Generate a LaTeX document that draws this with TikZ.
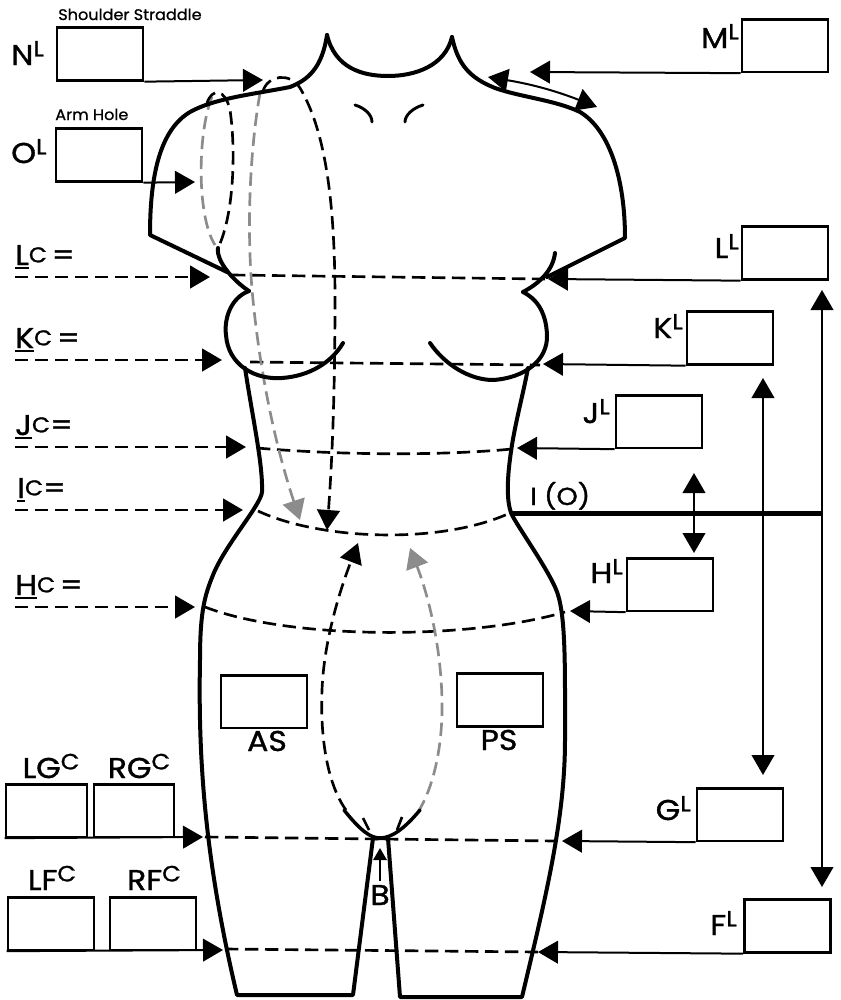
\documentclass[tikz,border=0pt]{standalone}
\usepackage{fontspec}
\setmainfont{Poppins}[FakeStretch=1.1, FakeBold=1.2]
\newfontfamily\smallfam{Poppins}[FakeStretch=1.05, FakeBold=0.8]
\usetikzlibrary{arrows.meta}
\definecolor{gry}{RGB}{140,140,140}
\newcommand\supL[1]{\raisebox{6.5pt}{\fontsize{16.5}{16.5}\selectfont #1}}
\newcommand\supC[1]{\raisebox{2pt}{\fontsize{16}{16}\selectfont #1}}
\newcommand\ulet[1]{\setbox0\hbox{#1}\rlap{\rule[-2.8pt]{\wd0}{1.5pt}}\box0}
\begin{document}
\begin{tikzpicture}[x=0.75pt,y=-0.75pt,
  body/.style={line width=3pt, line join=round, line cap=round},
  boxst/.style={draw, line width=2pt, minimum width=64.5pt, minimum height=39.5pt, inner sep=0pt},
  arr/.style={line width=1.5pt, -{Triangle[length=15pt,width=17pt]}},
  dbl/.style={line width=1.5pt, {Triangle[length=15pt,width=17pt]}-{Triangle[length=15pt,width=17pt]}},
  dsh/.style={line width=2pt, dash pattern=on 10pt off 5pt},
  darr/.style={dsh, -{Triangle[length=15pt,width=17pt]}},
  big/.style={font=\fontsize{21.5}{23}\selectfont, inner sep=0pt},
  mid/.style={font=\fontsize{18.5}{20}\selectfont, inner sep=0pt},
  small/.style={font=\smallfam\fontsize{11.5}{13}\selectfont, inner sep=0pt},
]
\fill[white] (0,0) rectangle (840,1000);
\useasboundingbox (0,0) rectangle (840,1000);

% ---------- coordinates (arrow tips) ----------
\coordinate (pN) at (263,80);
\coordinate (pO) at (195,182);
\coordinate (pM) at (530,72);
\coordinate (pLr) at (548,279);
\coordinate (pKr) at (543,364);
\coordinate (pJr) at (517,448);
\coordinate (pHr) at (570,611);
\coordinate (pGr) at (562,841);
\coordinate (pFr) at (538,952);
\coordinate (pGl) at (203,837);
\coordinate (pFl) at (223,950);
\coordinate (pB) at (380,848);

% ---------- dashed measurement lines ----------
\coordinate (Ls) at (15,277); \coordinate (Lt) at (210,277);
\coordinate (Ks) at (15,360); \coordinate (Kt) at (222,360);
\coordinate (Js) at (15,447); \coordinate (Jt) at (246,447);
\coordinate (Is) at (15,510); \coordinate (It) at (243,510);
\coordinate (Hs) at (15,607); \coordinate (Ht) at (195,607);
\draw[darr] (Ls) -- (Lt);
\draw[darr] (Ks) -- (Kt);
\draw[darr] (Js) -- (Jt);
\draw[darr] (Is) -- (It);
\draw[darr] (Hs) -- (Ht);

\draw[dsh] (232,275) -- (545,279);
\draw[dsh] (250,362) -- (540,365);
\draw[dsh] (257,448) .. controls (350,456) and (450,455) .. (512,449);
\draw[dsh] (258,511) .. controls (320,540) and (440,545) .. (510,513);
\draw[dsh] (205,607) .. controls (290,640) and (470,640) .. (565,612);
\draw[dsh] (205,837) -- (556,841);
\draw[dsh] (225,949) -- (538,952);

% shoulder straddle loops
\draw[dsh, gry, -{Triangle[length=15pt,width=17pt]}] (260,93) .. controls (250,150) and (246,230) .. (253,300) .. controls (262,390) and (280,460) .. (300,520);
\draw[dsh, -{Triangle[length=15pt,width=17pt]}] (263,91) .. controls (268,75) and (290,72) .. (300,88) .. controls (325,130) and (335,200) .. (335,300) .. controls (335,420) and (330,490) .. (327,530);
% arm hole
\draw[dsh, gry] (212,97) .. controls (198,130) and (196,215) .. (215,245);
\draw[dsh] (207,103) .. controls (212,88) and (225,88) .. (230,110) .. controls (236,150) and (234,215) .. (218,248);
% crotch loops
\draw[dsh, -{Triangle[length=15pt,width=17pt]}] (346,810) .. controls (328,785) and (320,740) .. (322,690) .. controls (324,640) and (340,590) .. (358,543);
\draw[dsh, gry, -{Triangle[length=15pt,width=17pt]}] (418,812) .. controls (432,790) and (443,750) .. (442,700) .. controls (441,650) and (430,600) .. (410,548);

% ---------- body outline ----------
\draw[body] (327,35) .. controls (322,68) and (308,80) .. (290,87)
  .. controls (255,94) and (215,98) .. (190,112)
  .. controls (160,130) and (150,175) .. (150,235) -- (227,272);
\draw[body] (218,248) .. controls (216,262) and (235,282) .. (249,291);
\draw[body] (249,291) .. controls (230,298) and (224,320) .. (226,335)
  .. controls (228,365) and (255,380) .. (282,378)
  .. controls (310,376) and (332,362) .. (343,343);
\draw[body] (245,368) .. controls (253,420) and (263,465) .. (262,492)
  .. controls (261,505) and (225,545) .. (213,575)
  .. controls (205,595) and (200,610) .. (200,660)
  .. controls (198,760) and (205,860) .. (237,995)
  -- (353,995) -- (373,838) -- (388,838) -- (400,997) -- (522,997)
  .. controls (545,900) and (565,820) .. (565,740)
  .. controls (565,660) and (566,610) .. (555,587)
  .. controls (545,565) and (520,530) .. (512,515)
  .. controls (505,500) and (508,470) .. (512,445)
  .. controls (516,420) and (524,390) .. (528,368);
\draw[body] (430,343) .. controls (445,365) and (470,380) .. (493,380)
  .. controls (525,378) and (548,360) .. (547,335)
  .. controls (546,310) and (535,298) .. (523,292);
\draw[body] (523,292) .. controls (540,283) and (553,270) .. (555,253);
\draw[body] (547,277) -- (625,238) .. controls (625,180) and (610,130) .. (580,112)
  .. controls (555,100) and (520,97) .. (495,88)
  .. controls (470,78) and (458,65) .. (452,37);
\draw[body] (327,35) .. controls (335,68) and (362,76) .. (388,76)
  .. controls (415,76) and (445,66) .. (452,37);
% collarbones
\draw[line width=2.2pt, line cap=round] (355,105) .. controls (365,108) and (372,115) .. (372,122);
\draw[line width=2.2pt, line cap=round] (423,105) .. controls (413,108) and (405,115) .. (405,122);
% crotch
\draw[line width=2.6pt, line cap=round] (344,810) .. controls (360,830) and (370,838) .. (380,838) .. controls (392,838) and (405,828) .. (420,810);
\draw[line width=2pt] (363,818) -- (369,830);
\draw[line width=2pt] (402,817) -- (397,830);

% ---------- boxes & labels ----------
\node[small, anchor=base west] (tSS) at (58,20) {Shoulder Straddle};
\node[boxst] (bN) at (100,54) {};
\node[big, anchor=base west] (tN) at (11,65) {N\supL{L}};
\draw[arr] (bN.south east) -- (pN);

\node[small, anchor=base west] (tAH) at (55,120) {Arm Hole};
\node[boxst] (bO) at (99,155) {};
\node[big, anchor=base west] (tO) at (11,163) {O\supL{L}};
\draw[arr] (bO.south east) -- (pO);

\node[boxst] (bM) at (785,45.5) {};
\node[big, anchor=base east] (tM) at (739,48) {M\supL{L}};
\draw[arr] (bM.south west) -- (pM);

\node[boxst] (bL) at (785,253) {};
\node[big, anchor=base east] (tL) at (739,258) {L\supL{L}};
\draw[arr] (bL.south west) -- (pLr);

\node[boxst] (bK) at (730,338) {};
\node[big, anchor=base east] (tK) at (683,338) {K\supL{L}};
\draw[arr] (bK.south west) -- (pKr);

\node[boxst] (bJ) at (659,421.5) {};
\node[big, anchor=base east] (tJ) at (610,423) {J\supL{L}};
\draw[arr] (bJ.south west) -- (pJr);

\node[boxst] (bH) at (670,584.5) {};
\node[big, anchor=base east] (tH) at (623,583) {H\supL{L}};
\draw[arr] (bH.south west) -- (pHr);

\node[boxst] (bG) at (740,814.5) {};
\node[big, anchor=base east] (tG) at (691,820) {G\supL{L}};
\draw[arr] (bG.south west) -- (pGr);

\node[boxst] (bF) at (787.5,926) {};
\node[big, anchor=base east] (tF) at (737,935) {F\supL{L}};
\draw[arr] (bF.south west) -- (pFr);

% left bottom boxes
\node[boxst, minimum width=60.75pt] (bLG) at (46.5,810.5) {};
\node[boxst, minimum width=60pt] (bRG) at (134,810.5) {};
\node[big, anchor=base] (tLG) at (51,778) {LG\supL{C}};
\node[big, anchor=base] (tRG) at (139,778) {RG\supL{C}};
\draw[arr] (bLG.south west) -- (pGl);

\node[boxst] (bLF) at (51,923.5) {};
\node[boxst] (bRF) at (153,923.5) {};
\node[big, anchor=base] (tLF) at (52,890) {LF\supL{C}};
\node[big, anchor=base] (tRF) at (154,890) {RF\supL{C}};
\draw[arr] (bLF.south west) -- (pFl);

% center boxes
\node[boxst] (bAS) at (264,701.5) {};
\node[big, anchor=base] (tAS) at (267,751) {AS};
\node[boxst] (bPS) at (500,700) {};
\node[big, anchor=base] (tPS) at (499,750) {PS};

% B
\node[big, anchor=base] (tB) at (380,905) {B};
\draw[line width=1.5pt, -{Triangle[length=9pt,width=10pt]}, shorten <=3pt] (tB.north) -- (pB);

% left circumference labels
\node[big, anchor=base west] (tLc) at (15,265) {\ulet{L}\supC{C}\,=};
\node[big, anchor=base west] (tKc) at (15,348) {\ulet{K}\supC{C}\,=};
\node[big, anchor=base west] (tJc) at (15,435) {\ulet{J}\supC{C}=};
\node[big, anchor=base west] (tIc) at (17,498) {\ulet{I}\supC{C}=};
\node[big, anchor=base west] (tHc) at (15,595) {\ulet{H}\supC{C}\,=};

% I (O) line and vertical arrows
\coordinate (iL) at (510,513); \coordinate (iR) at (822,513);
\draw[line width=3.75pt] (iL) -- (iR);
\node[mid, anchor=base west] (tI0) at (530,505) {I (O)};

\coordinate (s1) at (488,77); \coordinate (s2) at (597,107);
\draw[dbl] (s1) to[bend left=6] (s2);
\coordinate (v1a) at (694,473); \coordinate (v1b) at (694,553);
\draw[dbl] (v1a) -- (v1b);
\coordinate (v2a) at (763,378); \coordinate (v2b) at (763,775);
\draw[dbl] (v2a) -- (v2b);
\coordinate (v3a) at (822,290); \coordinate (v3b) at (822,887);
\draw[dbl] (v3a) -- (v3b);
\end{tikzpicture}
\end{document}
